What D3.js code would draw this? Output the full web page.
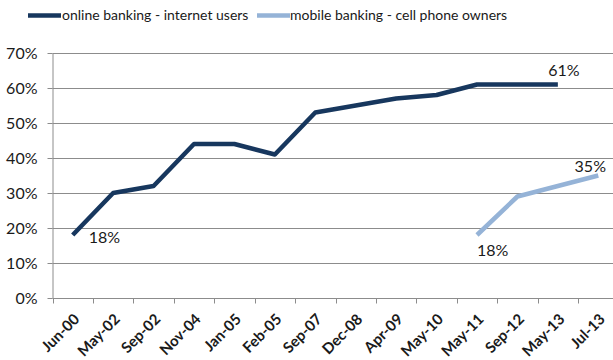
<!DOCTYPE html>
<html>
<head>
<meta charset="utf-8">
<script src="https://cdn.jsdelivr.net/npm/d3@7"></script>
<style>
  html, body { margin: 0; padding: 0; background: #fff; }
  svg { display: block; font-family: Lato, "Open Sans", sans-serif; }
</style>
</head>
<body>
<svg id="chart" width="613" height="360"></svg>
<script>
// Survey dates (category axis)
const categories = ["Jun-00", "May-02", "Sep-02", "Nov-04", "Jan-05", "Feb-05", "Sep-07",
  "Dec-08", "Apr-09", "May-10", "May-11", "Sep-12", "May-13", "Jul-13"];

// Share of internet users who bank online
const onlineBanking = [0.18, 0.30, 0.32, 0.44, 0.44, 0.41, 0.53, 0.55, 0.57, 0.58, 0.61, 0.61, 0.61, null];

// Share of cell phone owners who bank on mobile
const mobileBanking = [null, null, null, null, null, null, null, null, null, null, 0.18, 0.29, 0.32, 0.35];

const yTicks = [0, 0.1, 0.2, 0.3, 0.4, 0.5, 0.6, 0.7];

const seriesNames = ["online banking - internet users", "mobile banking - cell phone owners"];
const seriesColors = ["#17375E", "#95B3D7"];

// Labelled points: series index, category index, placement
const pointLabels = [
  { s: 0, i: 0, dx: 16, dy: 2, anchor: "start" },
  { s: 0, i: 12, dx: 6, dy: -14, anchor: "middle" },
  { s: 1, i: 10, dx: 0, dy: 15, anchor: "start" },
  { s: 1, i: 13, dx: -8, dy: -9, anchor: "middle" }
];

const svg = d3.select("#chart");
const plotLeft = 52.5, plotRight = 618.5, plotTop = 53, plotBottom = 298;

const x = d3.scaleBand().domain(categories).range([plotLeft, plotRight]);
const y = d3.scaleLinear().domain([0, 0.7]).range([plotBottom, plotTop]);
const fmt = d3.format(".0%");
const gridColor = "#8c8c8c";
const textColor = "#1a1a1a";

// Horizontal gridlines
svg.append("g")
  .selectAll("line")
  .data(yTicks.filter(d => d > 0))
  .join("line")
  .attr("x1", plotLeft).attr("x2", 613)
  .attr("y1", d => Math.round(y(d)) + 0.5).attr("y2", d => Math.round(y(d)) + 0.5)
  .attr("stroke", gridColor).attr("stroke-width", 1);

// Y axis
const yAxis = svg.append("g")
  .attr("transform", `translate(${plotLeft},0)`)
  .call(d3.axisLeft(y).tickValues(yTicks).tickFormat(fmt).tickSize(5).tickSizeOuter(0));
yAxis.select(".domain").attr("stroke", gridColor);
yAxis.selectAll(".tick line").attr("stroke", gridColor);
yAxis.selectAll(".tick").attr("transform", d => `translate(0,${Math.round(y(d)) + 0.5})`);
yAxis.selectAll("text")
  .attr("x", -15)
  .attr("dy", "0.35em")
  .attr("fill", textColor)
  .style("font-size", "16px")
  .style("font-family", "Lato, sans-serif");

// X axis with boundary ticks between categories
const xAxisG = svg.append("g").attr("transform", `translate(0,${plotBottom + 0.5})`);
xAxisG.append("line")
  .attr("x1", plotLeft).attr("x2", 613)
  .attr("stroke", gridColor);
xAxisG.selectAll("line.tk")
  .data(categories)
  .join("line")
  .attr("class", "tk")
  .attr("x1", d => Math.round(x(d)) + 0.5).attr("x2", d => Math.round(x(d)) + 0.5)
  .attr("y1", 0).attr("y2", 5)
  .attr("stroke", gridColor);
xAxisG.selectAll("text")
  .data(categories)
  .join("text")
  .attr("transform", d => `translate(${x(d) + x.bandwidth() / 2 + 4},${18}) rotate(-45)`)
  .attr("text-anchor", "end")
  .attr("dy", "0.35em")
  .attr("fill", textColor)
  .style("font-size", "15px")
  .style("font-weight", "bold")
  .text(d => d);

// Lines
const cx = (i) => x(categories[i]) + x.bandwidth() / 2;
const line = d3.line()
  .defined(d => d.v != null)
  .x(d => cx(d.i))
  .y(d => y(d.v));

[onlineBanking, mobileBanking].forEach((vals, s) => {
  svg.append("path")
    .datum(vals.map((v, i) => ({ v, i })))
    .attr("fill", "none")
    .attr("stroke", seriesColors[s])
    .attr("stroke-width", 4.5)
    .attr("stroke-linejoin", "round")
    .attr("d", line);
});

// Value labels
const series = [onlineBanking, mobileBanking];
svg.append("g")
  .selectAll("text")
  .data(pointLabels)
  .join("text")
  .attr("x", d => cx(d.i) + d.dx)
  .attr("y", d => y(series[d.s][d.i]) + d.dy)
  .attr("text-anchor", d => d.anchor)
  .attr("dy", "0.35em")
  .attr("fill", textColor)
  .style("font-size", "16px")
  .text(d => fmt(series[d.s][d.i]));

// Legend
const legend = svg.append("g");
const legendItems = [{ x: 28, tx: 62 }, { x: 257, tx: 290 }];
legendItems.forEach((it, s) => {
  legend.append("line")
    .attr("x1", it.x).attr("x2", it.x + 33)
    .attr("y1", 15.5).attr("y2", 15.5)
    .attr("stroke", seriesColors[s]).attr("stroke-width", 4.5);
  legend.append("text")
    .attr("x", it.tx).attr("y", 15.5)
    .attr("dy", "0.35em")
    .attr("fill", textColor)
    .style("font-size", "14px")
    .text(seriesNames[s]);
});
</script>
</body>
</html>
